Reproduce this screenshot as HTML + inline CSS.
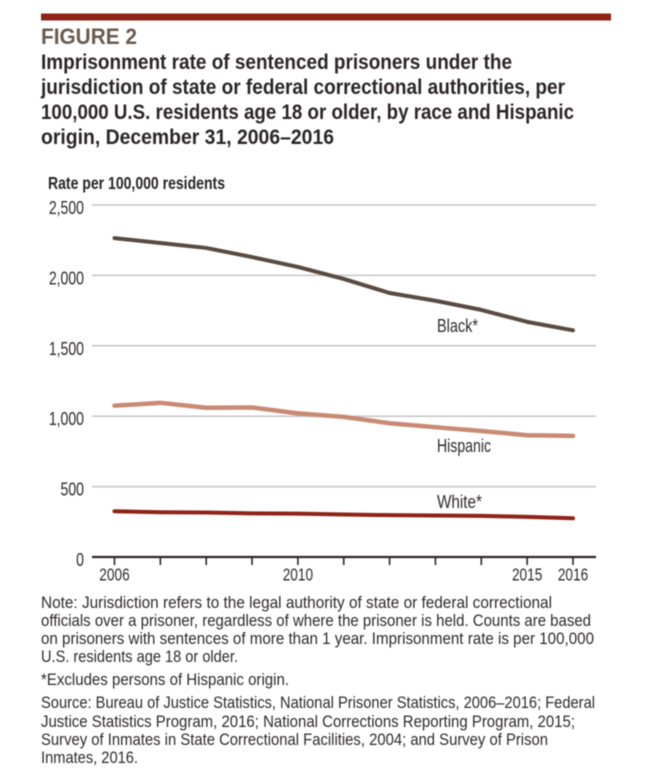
<!DOCTYPE html>
<html>
<head>
<meta charset="utf-8">
<style>
html,body{margin:0;padding:0;background:#fff;width:651px;height:782px;overflow:hidden}
svg{display:block;filter:blur(.4px)}
text{font-family:"Liberation Sans",sans-serif}
.t{font-weight:700;font-size:21px;fill:#2b2526}
.n{font-size:16.5px;fill:#2e2a2b}
.a{font-size:18px;fill:#2e2a2b}
</style>
</head>
<body>
<svg id="chart" width="651" height="782" viewBox="0 0 651 782" xmlns="http://www.w3.org/2000/svg">
<rect x="41" y="13.5" width="570" height="7" fill="#8f2318"/>
<text x="41" y="44" font-weight="700" font-size="22.5" fill="#6a5a50" textLength="96" lengthAdjust="spacingAndGlyphs">FIGURE 2</text>
<g>
<text class="t" x="41" y="69" textLength="471" lengthAdjust="spacingAndGlyphs">Imprisonment rate of sentenced prisoners under the</text>
<text class="t" x="41" y="94" textLength="524" lengthAdjust="spacingAndGlyphs">jurisdiction of state or federal correctional authorities, per</text>
<text class="t" x="41" y="119" textLength="533" lengthAdjust="spacingAndGlyphs">100,000 U.S. residents age 18 or older, by race and Hispanic</text>
<text class="t" x="41" y="144" textLength="293" lengthAdjust="spacingAndGlyphs">origin, December 31, 2006–2016</text>
</g>
<text x="48" y="189" font-weight="700" font-size="17.5" fill="#2b2526" textLength="177" lengthAdjust="spacingAndGlyphs">Rate per 100,000 residents</text>
<g id="grid"></g>
<g id="yticks"></g>
<g id="xaxis"></g>
<g id="series"></g>
<text class="a" x="437" y="332" textLength="41" lengthAdjust="spacingAndGlyphs">Black*</text>
<text class="a" x="437" y="452" textLength="54" lengthAdjust="spacingAndGlyphs">Hispanic</text>
<text class="a" x="437" y="508" textLength="45" lengthAdjust="spacingAndGlyphs">White*</text>
<g>
<text class="n" x="41" y="608" textLength="511" lengthAdjust="spacingAndGlyphs">Note: Jurisdiction refers to the legal authority of state or federal correctional</text>
<text class="n" x="41" y="626" textLength="550" lengthAdjust="spacingAndGlyphs">officials over a prisoner, regardless of where the prisoner is held. Counts are based</text>
<text class="n" x="41" y="644" textLength="553" lengthAdjust="spacingAndGlyphs">on prisoners with sentences of more than 1 year. Imprisonment rate is per 100,000</text>
<text class="n" x="41" y="662" textLength="197" lengthAdjust="spacingAndGlyphs">U.S. residents age 18 or older.</text>
<text class="n" x="41" y="685" textLength="248" lengthAdjust="spacingAndGlyphs">*Excludes persons of Hispanic origin.</text>
<text class="n" x="41" y="708" textLength="554" lengthAdjust="spacingAndGlyphs">Source: Bureau of Justice Statistics, National Prisoner Statistics, 2006–2016; Federal</text>
<text class="n" x="41" y="727" textLength="534" lengthAdjust="spacingAndGlyphs">Justice Statistics Program, 2016; National Corrections Reporting Program, 2015;</text>
<text class="n" x="41" y="745" textLength="507" lengthAdjust="spacingAndGlyphs">Survey of Inmates in State Correctional Facilities, 2004; and Survey of Prison</text>
<text class="n" x="41" y="763" textLength="97" lengthAdjust="spacingAndGlyphs">Inmates, 2016.</text>
</g>
</svg>
<script>
const years = [2006, 2007, 2008, 2009, 2010, 2011, 2012, 2013, 2014, 2015, 2016];
const xTickLabels = ['2006', '', '', '', '2010', '', '', '', '', '2015', '2016'];
const yTicks = [0, 500, 1000, 1500, 2000, 2500];
const yTickLabels = ['0', '500', '1,000', '1,500', '2,000', '2,500'];
const black = [2265, 2230, 2195, 2130, 2060, 1975, 1875, 1820, 1755, 1670, 1610];
const hispanic = [1075, 1095, 1060, 1062, 1020, 995, 950, 922, 895, 865, 860];
const white = [325, 318, 316, 310, 308, 302, 297, 295, 292, 285, 275];

const NS = 'http://www.w3.org/2000/svg';
function xScale(year) { return 114.5 + (year - 2006) * (573 - 114.5) / 10; }
function yScale(value) { return 557 - value * (557 - 205) / 2500; }
function make(tag, attrs, parent) {
  const el = document.createElementNS(NS, tag);
  for (const k in attrs) el.setAttribute(k, attrs[k]);
  parent.appendChild(el);
  return el;
}
const gridG = document.getElementById('grid');
const yG = document.getElementById('yticks');
const xG = document.getElementById('xaxis');
const seriesG = document.getElementById('series');

yTicks.forEach(function (v, i) {
  if (v !== 0) {
    const g = make('line', { x1: 92, x2: 596, y1: yScale(v), y2: yScale(v), stroke: '#c6c6c8', 'stroke-width': 1.5 }, gridG);
    
    
  }
  const t = make('text', { x: 84, y: yScale(v) + 9, 'text-anchor': 'end', 'font-size': 18.5, fill: '#2e2a2b', transform: 'translate(84 0) scale(.76 1) translate(-84 0)' }, yG);
  t.textContent = yTickLabels[i];
  
  
});

const axis = make('line', { x1: 92, x2: 596, y1: yScale(0), y2: yScale(0), stroke: '#2b2526', 'stroke-width': 2.2 }, xG);



years.forEach(function (yr, i) {
  const tick = make('line', { x1: xScale(yr), x2: xScale(yr), y1: yScale(0), y2: yScale(0) + 8, stroke: '#2b2526', 'stroke-width': 1.6 }, xG);
  
  
  if (xTickLabels[i]) {
    const cx = xScale(yr);
    const t = make('text', { x: cx, y: 580.5, 'text-anchor': 'middle', 'font-size': 17.5, fill: '#2e2a2b', transform: 'translate(' + cx + ' 0) scale(.78 1) translate(' + (-cx) + ' 0)' }, xG);
    t.textContent = xTickLabels[i];
    
    
  }
});

function drawLine(values, color, width) {
  const pts = values.map(function (v, i) { return xScale(years[i]) + ',' + yScale(v); }).join(' ');
  return make('polyline', { points: pts, fill: 'none', stroke: color, 'stroke-width': width, 'stroke-linecap': 'round', 'stroke-linejoin': 'round' }, seriesG);
}
const lineBlack = drawLine(black, '#594a42', 4);


const lineHispanic = drawLine(hispanic, '#c98a73', 4.5);


const lineWhite = drawLine(white, '#8f2318', 4);


</script>
</body>
</html>
